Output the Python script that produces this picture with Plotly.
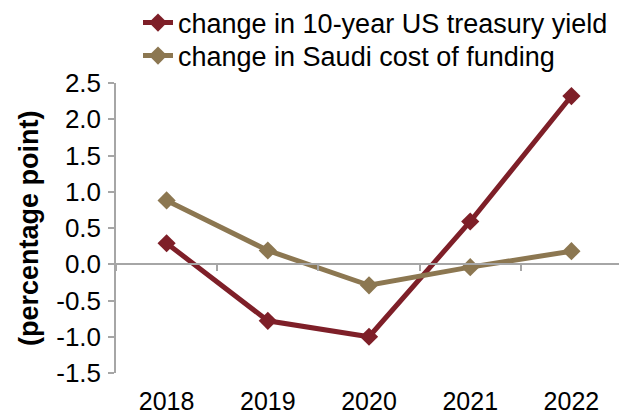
import plotly.graph_objects as go

years = ["2018", "2019", "2020", "2021", "2022"]
us_treasury_change = [0.29, -0.78, -1.00, 0.59, 2.32]
saudi_funding_change = [0.88, 0.19, -0.29, -0.04, 0.18]

y_ticks = [-1.5, -1.0, -0.5, 0.0, 0.5, 1.0, 1.5, 2.0, 2.5]
y_ticktext = ["%.1f" % v for v in y_ticks]

RED = "#7e1f28"
BROWN = "#8c7751"
AXIS_GREY = "#a6a6a6"
FONT = "Liberation Sans, Arial, sans-serif"
FS = 26
LEGEND_FS = 27

fig = go.Figure()
fig.add_trace(go.Scatter(
    x=years, y=us_treasury_change, name="change in 10-year US treasury yield",
    mode="lines+markers", legend="legend",
    line=dict(color=RED, width=5), marker=dict(symbol="diamond", size=14, color=RED),
))
fig.add_trace(go.Scatter(
    x=years, y=saudi_funding_change, name="change in Saudi cost of funding",
    mode="lines+markers", legend="legend2",
    line=dict(color=BROWN, width=5), marker=dict(symbol="diamond", size=14, color=BROWN),
))
# invisible trace that carries the category axis drawn along y = 0
fig.add_trace(go.Scatter(x=years, y=[None] * len(years), xaxis="x2",
                         showlegend=False, hoverinfo="skip"))

y_min, y_max = -1.5, 2.5
zero_pos = (0 - y_min) / (y_max - y_min)

legend_common = dict(
    xref="container", yref="container", xanchor="left", yanchor="middle",
    bgcolor="rgba(0,0,0,0)", font=dict(size=LEGEND_FS),
)

fig.update_layout(
    width=619, height=414,
    margin=dict(l=116, r=0, t=83, b=41, autoexpand=False),
    paper_bgcolor="white", plot_bgcolor="white",
    font=dict(family=FONT, size=FS, color="#000000"),
    showlegend=True,
    legend=dict(x=138 / 619, y=1 - 23 / 414, **legend_common),
    legend2=dict(x=138 / 619, y=1 - 56 / 414, **legend_common),
    xaxis=dict(
        type="category", range=[-0.5, 4.47], showline=False, showgrid=False,
        zeroline=False, ticks="", ticklabelstandoff=11, automargin=False,
        tickangle=0, tickfont=dict(size=25),
    ),
    xaxis2=dict(
        type="category", range=[-0.5, 4.47], matches="x", overlaying="x",
        anchor="free", position=zero_pos, side="bottom",
        showline=True, linecolor=AXIS_GREY, linewidth=1.5,
        ticks="outside", tickson="boundaries", ticklen=6, tickcolor=AXIS_GREY,
        tickwidth=1.5, showticklabels=False, showgrid=False, zeroline=False,
        automargin=False,
    ),
    yaxis=dict(
        range=[y_min, y_max], tickvals=y_ticks, ticktext=y_ticktext,
        showline=True, linecolor=AXIS_GREY, linewidth=1.5,
        ticks="outside", ticklen=6, tickcolor=AXIS_GREY, tickwidth=1.5,
        showgrid=False, zeroline=False, ticklabelstandoff=2, automargin=False,
    ),
    annotations=[dict(
        text="<b>(percentage point)</b>", textangle=-90, showarrow=False,
        xref="paper", yref="paper", x=(29 - 116) / 503, y=0.5,
        xanchor="center", yanchor="middle", font=dict(size=LEGEND_FS),
    )],
)

fig.write_html("out.html")
